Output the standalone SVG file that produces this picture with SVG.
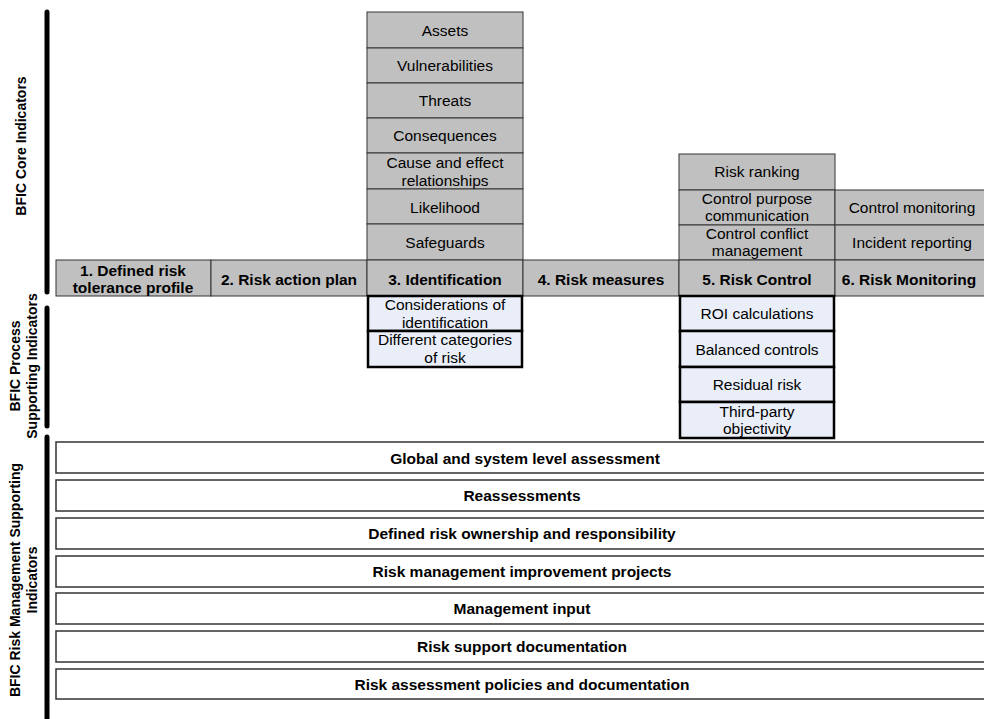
<svg xmlns="http://www.w3.org/2000/svg" width="984" height="719" viewBox="0 0 984 719">
<style>
text{font-family:"Liberation Sans",Arial,sans-serif;font-size:15.5px;fill:#000;text-anchor:middle;dominant-baseline:central}
.b{font-weight:bold}
.lbl{font-weight:bold;font-size:14px}
.g{fill:#c0c0c0;stroke:#333;stroke-width:1}
.bl{fill:#e9eef8;stroke:#000;stroke-width:2.5}
.w{fill:#fff;stroke:#333;stroke-width:1.5}
.bar{stroke:#000;stroke-width:5;stroke-linecap:round;fill:none}
</style>
<rect width="984" height="719" fill="#fff"/>
<g id="bars">
<line class="bar" x1="47" y1="12" x2="47" y2="292"/>
<line class="bar" x1="47" y1="308" x2="47" y2="426"/>
<line class="bar" x1="47" y1="437" x2="47" y2="725"/>
</g>
<g id="labels">
<text class="lbl" transform="translate(21,146) rotate(-90)">BFIC Core Indicators</text>
<text class="lbl" transform="translate(15,366) rotate(-90)">BFIC Process</text>
<text class="lbl" transform="translate(32,366) rotate(-90)">Supporting Indicators</text>
<text class="lbl" transform="translate(15,580) rotate(-90)">BFIC Risk Management Supporting</text>
<text class="lbl" transform="translate(32,580) rotate(-90)">Indicators</text>
</g>
<g id="col3">
<g id="assets"><rect class="g" x="367" y="12" width="156" height="36"/><text x="445" y="30">Assets</text></g>
<g id="vulnerabilities"><rect class="g" x="367" y="48" width="156" height="35"/><text x="445" y="65">Vulnerabilities</text></g>
<g id="threats"><rect class="g" x="367" y="83" width="156" height="35"/><text x="445" y="100">Threats</text></g>
<g id="consequences"><rect class="g" x="367" y="118" width="156" height="35"/><text x="445" y="135">Consequences</text></g>
<g id="cause"><rect class="g" x="367" y="153" width="156" height="36"/><text x="445" y="162">Cause and effect</text><text x="445" y="180">relationships</text></g>
<g id="likelihood"><rect class="g" x="367" y="189" width="156" height="35"/><text x="445" y="207">Likelihood</text></g>
<g id="safeguards"><rect class="g" x="367" y="224" width="156" height="36"/><text x="445" y="242">Safeguards</text></g>
</g>
<g id="col5">
<g id="ranking"><rect class="g" x="679" y="154" width="156" height="36"/><text x="757" y="171">Risk ranking</text></g>
<g id="purpose"><rect class="g" x="679" y="190" width="156" height="35"/><text x="757" y="198">Control purpose</text><text x="757" y="215">communication</text></g>
<g id="conflict"><rect class="g" x="679" y="225" width="156" height="35"/><text x="757" y="233">Control conflict</text><text x="757" y="250">management</text></g>
</g>
<g id="col6">
<g id="monitoring"><rect class="g" x="835" y="190" width="152" height="35"/><text x="912" y="207">Control monitoring</text></g>
<g id="incident"><rect class="g" x="835" y="225" width="152" height="35"/><text x="912" y="242">Incident reporting</text></g>
</g>
<g id="mainrow">
<g id="step1"><rect class="g" x="56" y="260" width="155" height="36"/><text class="b" x="133" y="270">1. Defined risk</text><text class="b" x="133" y="287">tolerance profile</text></g>
<g id="step2"><rect class="g" x="211" y="260" width="156" height="36"/><text class="b" x="289" y="279">2. Risk action plan</text></g>
<g id="step3"><rect class="g" x="367" y="260" width="156" height="36"/><text class="b" x="445" y="279">3. Identification</text></g>
<g id="step4"><rect class="g" x="523" y="260" width="156" height="36"/><text class="b" x="601" y="279">4. Risk measures</text></g>
<g id="step5"><rect class="g" x="679" y="260" width="156" height="36"/><text class="b" x="757" y="279">5. Risk Control</text></g>
<g id="step6"><rect class="g" x="835" y="260" width="152" height="36"/><text class="b" x="909" y="279">6. Risk Monitoring</text></g>
</g>
<g id="process3">
<g id="considerations"><rect class="bl" x="368" y="296" width="154" height="35"/><text x="445" y="304">Considerations of</text><text x="445" y="322">identification</text></g>
<g id="categories"><rect class="bl" x="368" y="331" width="154" height="36"/><text x="445" y="339">Different categories</text><text x="445" y="357">of risk</text></g>
</g>
<g id="process5">
<g id="roi"><rect class="bl" x="680" y="296" width="154" height="35"/><text x="757" y="313">ROI calculations</text></g>
<g id="balanced"><rect class="bl" x="680" y="331" width="154" height="36"/><text x="757" y="349">Balanced controls</text></g>
<g id="residual"><rect class="bl" x="680" y="367" width="154" height="35"/><text x="757" y="384">Residual risk</text></g>
<g id="thirdparty"><rect class="bl" x="680" y="402" width="154" height="36"/><text x="757" y="411">Third-party</text><text x="757" y="428">objectivity</text></g>
</g>
<g id="support">
<g id="global"><rect class="w" x="56" y="442" width="932" height="31"/><text class="b" x="525" y="458">Global and system level assessment</text></g>
<g id="reassess"><rect class="w" x="56" y="480" width="932" height="31"/><text class="b" x="522" y="495">Reassessments</text></g>
<g id="ownership"><rect class="w" x="56" y="518" width="932" height="31"/><text class="b" x="522" y="533">Defined risk ownership and responsibility</text></g>
<g id="improvement"><rect class="w" x="56" y="556" width="932" height="31"/><text class="b" x="522" y="571">Risk management improvement projects</text></g>
<g id="mgmtinput"><rect class="w" x="56" y="593" width="932" height="31"/><text class="b" x="522" y="608">Management input</text></g>
<g id="supportdoc"><rect class="w" x="56" y="631" width="932" height="31"/><text class="b" x="522" y="646">Risk support documentation</text></g>
<g id="policies"><rect class="w" x="56" y="669" width="932" height="30"/><text class="b" x="522" y="684">Risk assessment policies and documentation</text></g>
</g>
<g id="connectors"></g>
</svg>
